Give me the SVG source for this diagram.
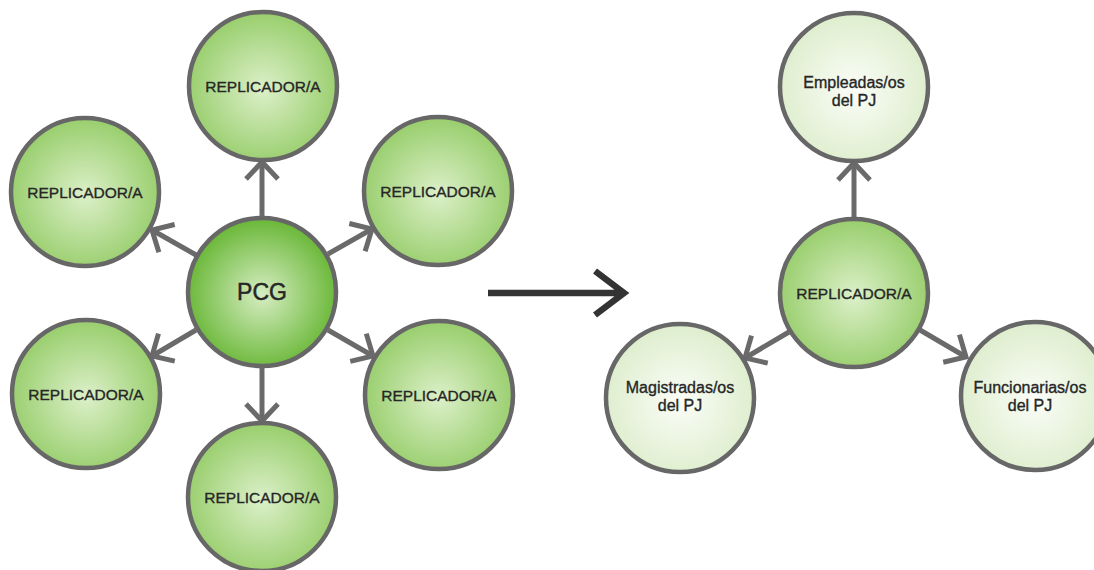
<svg xmlns="http://www.w3.org/2000/svg" width="1094" height="570" viewBox="0 0 1094 570">
<style>
.n{stroke:#676767;stroke-width:4.5}
.rep{fill:url(#gRep)}
.pcg{fill:url(#gPcg)}
.lt{fill:url(#gLt)}
text{font-family:"Liberation Sans",Arial,sans-serif;fill:#262626;text-anchor:middle;stroke:#262626;stroke-width:0.35}
.t{font-size:15.5px}
.s{font-size:16px}
.big{font-size:23px;stroke-width:0.5}
.c{fill:none;stroke:#6a6a6a;stroke-width:5;marker-end:url(#ah)}
.main{fill:none;stroke:#333;stroke-width:6.5;stroke-linejoin:miter}
</style>
<defs>
<radialGradient id="gRep" cx="50%" cy="52%" r="50%">
<stop offset="0" stop-color="#dcf0c9"/>
<stop offset="1" stop-color="#9bcf70"/>
</radialGradient>
<radialGradient id="gPcg" cx="50%" cy="52%" r="50%">
<stop offset="0" stop-color="#d6edc2"/>
<stop offset="1" stop-color="#6db93c"/>
</radialGradient>
<radialGradient id="gLt" cx="50%" cy="52%" r="50%">
<stop offset="0" stop-color="#fbfdf8"/>
<stop offset="1" stop-color="#dfeecf"/>
</radialGradient>
<marker id="ah" markerUnits="userSpaceOnUse" viewBox="-24 -22 28 44" refX="0" refY="0" markerWidth="28" markerHeight="44" orient="auto">
<path d="M-17 -16 L0 0 L-17 16" fill="none" stroke="#6a6a6a" stroke-width="5"/>
</marker>
</defs>
<g id="connectors">
<line class="c" x1="262" y1="216" x2="262" y2="162"/>
<line class="c" x1="262" y1="368" x2="262" y2="421"/>
<line class="c" x1="196" y1="255" x2="152" y2="230"/>
<line class="c" x1="328" y1="254" x2="372" y2="229"/>
<line class="c" x1="196" y1="330" x2="152" y2="356"/>
<line class="c" x1="328" y1="330" x2="373" y2="356"/>
<line class="c" x1="854" y1="217" x2="854" y2="163"/>
<line class="c" x1="789" y1="332" x2="745" y2="358"/>
<line class="c" x1="920" y1="330" x2="966" y2="357"/>
<path class="main" d="M488 293 H624 M595 271 L624 293 L595 315"/>
</g>
<g id="n-top"><circle class="n rep" cx="263" cy="86" r="74"/><text class="t" x="263" y="92">REPLICADOR/A</text></g>
<g id="n-ul"><circle class="n rep" cx="85" cy="192" r="74"/><text class="t" x="85" y="198">REPLICADOR/A</text></g>
<g id="n-ur"><circle class="n rep" cx="438" cy="191" r="74"/><text class="t" x="438" y="197">REPLICADOR/A</text></g>
<g id="n-pcg"><circle class="n pcg" cx="262" cy="292" r="74"/><text class="big" x="262" y="300">PCG</text></g>
<g id="n-ll"><circle class="n rep" cx="86" cy="394" r="74"/><text class="t" x="86" y="400">REPLICADOR/A</text></g>
<g id="n-lr"><circle class="n rep" cx="439" cy="395" r="74"/><text class="t" x="439" y="401">REPLICADOR/A</text></g>
<g id="n-bot"><circle class="n rep" cx="262" cy="497" r="74"/><text class="t" x="262" y="503">REPLICADOR/A</text></g>
<g id="n-rep"><circle class="n rep" cx="854" cy="293" r="74"/><text class="t" x="854" y="299">REPLICADOR/A</text></g>
<g id="n-emp"><circle class="n lt" cx="854" cy="87" r="74"/><text class="s" x="854" y="88">Empleadas/os</text><text class="s" x="854" y="106">del PJ</text></g>
<g id="n-mag"><circle class="n lt" cx="680" cy="398" r="74"/><text class="s" x="680" y="393">Magistradas/os</text><text class="s" x="680" y="411">del PJ</text></g>
<g id="n-fun"><circle class="n lt" cx="1035" cy="396" r="74"/><text class="s" x="1030" y="393">Funcionarias/os</text><text class="s" x="1030" y="411">del PJ</text></g>
</svg>
